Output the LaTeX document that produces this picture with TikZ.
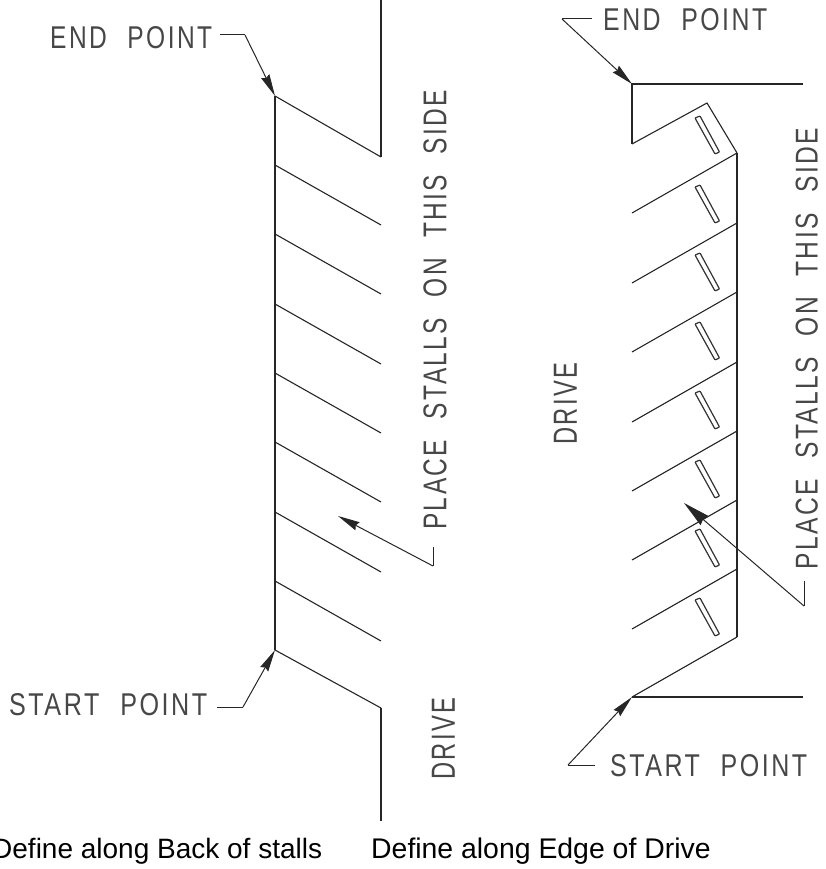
\documentclass[tikz,border=0pt]{standalone}
\usepackage{fontspec}
\usepackage{graphicx}
\setmainfont{Liberation Sans}
\newfontfamily\cadfont[LetterSpace=10,WordSpace=2.2]{Liberation Sans}
\newcommand{\cadtext}[3]{\resizebox{#1pt}{#2pt}{\cadfont #3}}
\usetikzlibrary{arrows.meta}
\tikzset{
  wall/.style={line width=1.5pt,black!85},
  stall/.style={line width=1.1pt,black!85},
  pad/.style={line width=1.2pt,black!80,rounded corners=0.8pt},
  leader/.style={line width=1pt,black!85},
  leadarrow/.style={leader,-{Stealth[length=22pt,width=9pt,inset=2pt]}},
  bigarrow/.style={leader,-{Stealth[length=27pt,width=12pt,inset=2pt]}},
  cad/.style={text=black!72,inner sep=0pt,anchor=south west},
  caption/.style={font=\fontsize{28}{30}\selectfont,text=black,inner sep=0pt,anchor=base west}
}
\begin{document}
\begin{tikzpicture}[x=1pt,y=-1pt]
\useasboundingbox (0,0) rectangle (825,869);
\clip (0,0) rectangle (825,869);
% --- left layout
\coordinate (LT) at (275,96);
\coordinate (LB) at (275,650);
\coordinate (LTR) at (381,157);
\coordinate (LTop) at (381,0);
\coordinate (LBR) at (381,708);
\coordinate (LBot) at (381,821);
\draw[wall] (LT) -- (LB);
\draw[stall] (LT) -- (LTR);
\draw[wall] (LTR) -- (LTop);
\draw[stall] (LB) -- (LBR);
\draw[wall] (LBR) -- (LBot);
\foreach \y in {165,234,304,373,442,512,581}
  \draw[stall] (275,\y) -- ++(106,60);
% --- right layout
\coordinate (RT) at (632,84);
\coordinate (RTE) at (803,84);
\coordinate (RTL) at (632,144);
\coordinate (RP) at (707,103);
\coordinate (RA) at (737,153);
\coordinate (RB) at (737,637);
\coordinate (RBL) at (632,697);
\coordinate (RBE) at (803,697);
\draw[wall] (RTE) -- (RT) -- (RTL);
\draw[stall] (RTL) -- (RP) -- (RA);
\draw[wall] (RA) -- (RB);
\draw[stall] (RB) -- (RBL);
\draw[wall] (RBL) -- (RBE);
\foreach \y in {153,223,292,362,431,500,569}
  \draw[stall] (737,\y) -- ++(-105,60);
\foreach \y in {117,186,254,323,392,461,530,599}
  \draw[pad] (695,\y+1) -- (700,\y-1) -- (719.5,\y+35) -- (715,\y+37) -- cycle;
% --- labels
\node[cad] (endL) at (50,49) {\cadtext{162}{22}{END POINT}};
\node[cad] (startL) at (9,716) {\cadtext{198}{22}{START POINT}};
\node[cad] (endR) at (603,31) {\cadtext{164}{22}{END POINT}};
\node[cad] (startR) at (610,777) {\cadtext{197}{22}{START POINT}};
\node[cad,rotate=90] (placeL) at (447,530) {\cadtext{440}{23}{PLACE STALLS ON THIS SIDE}};
\node[cad,rotate=90] (placeR) at (818,570) {\cadtext{442}{22}{PLACE STALLS ON THIS SIDE}};
\node[cad,rotate=90] (driveL) at (455,780) {\cadtext{82}{23}{DRIVE}};
\node[cad,rotate=90] (driveR) at (577,445) {\cadtext{82}{23}{DRIVE}};
\node[caption] (capL) at (-8,858) {Define along Back of stalls};
\node[caption,font=\fontsize{28.4}{30}\selectfont] (capR) at (371,858) {Define along Edge of Drive};
% --- leaders
\coordinate (e0) at (220,35); \coordinate (e1) at (245,35);
\draw[leader] (e0) -- (e1);
\draw[leadarrow] (e1) -- (LT);
\coordinate (s0) at (217,707); \coordinate (s1) at (243,707);
\draw[leader] (s0) -- (s1);
\draw[leadarrow] (s1) -- (LB);
\coordinate (e2) at (592,19); \coordinate (e3) at (562,19);
\draw[leader] (e2) -- (e3);
\draw[leadarrow] (e3) -- (RT);
\coordinate (s2) at (595,765); \coordinate (s3) at (568,765);
\draw[leader] (s2) -- (s3);
\draw[leadarrow] (s3) -- (RBL);
\coordinate (p0) at (433,547); \coordinate (p1) at (433,566); \coordinate (pa) at (338,516);
\draw[leader] (p0) -- (p1);
\draw[leadarrow] (p1) -- (pa);
\coordinate (q0) at (804,581); \coordinate (q1) at (804,606); \coordinate (qa) at (684,503);
\draw[leader] (q0) -- (q1);
\draw[bigarrow] (q1) -- (qa);
\end{tikzpicture}
\end{document}
